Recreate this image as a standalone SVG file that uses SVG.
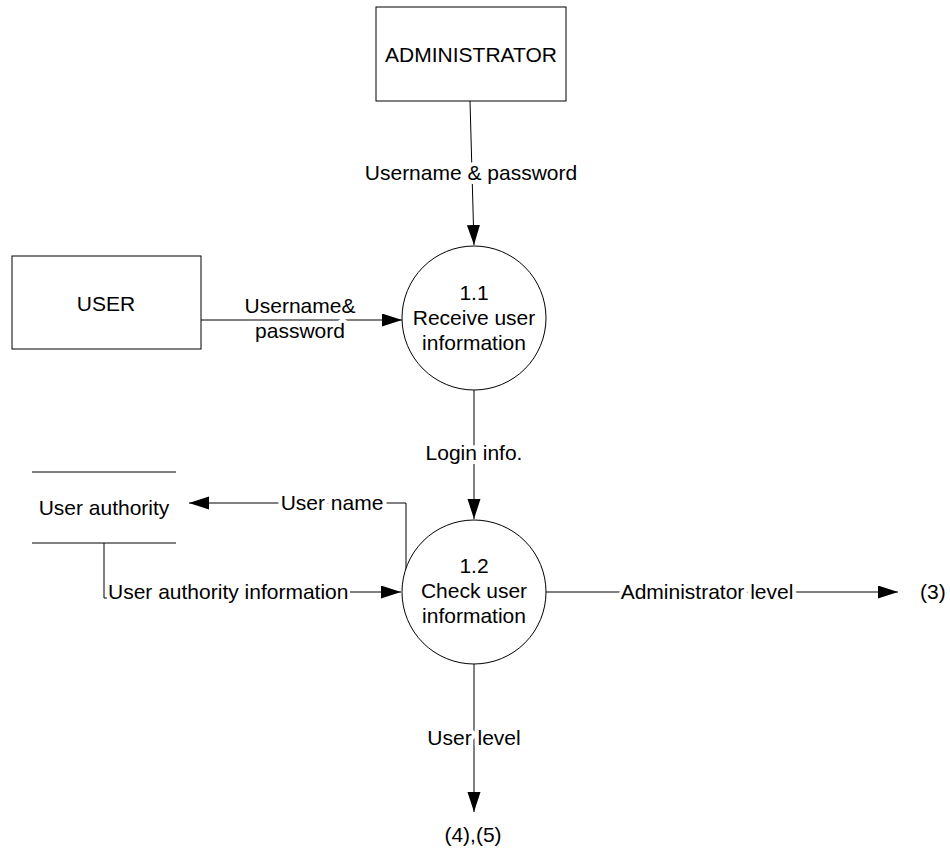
<svg xmlns="http://www.w3.org/2000/svg" width="950" height="855" viewBox="0 0 950 855">
  <style>
    text { font-family: "Liberation Sans", Arial, sans-serif; font-size: 21px; fill: #000; }
    .mid { text-anchor: middle; }
    .box { fill: #fff; stroke: #000; stroke-width: 1; }
    .line { fill: none; stroke: #000; stroke-width: 1; }
    .lbl { stroke: #fff; stroke-width: 8px; stroke-linejoin: round; paint-order: stroke; }
  </style>
  <defs>
    <marker id="arrow" markerUnits="userSpaceOnUse" markerWidth="21" markerHeight="14" refX="20" refY="6.5" orient="auto">
      <path d="M0,0 L20,6.5 L0,13 Z" fill="#000"/>
    </marker>
  </defs>

  <rect width="950" height="855" fill="#fff"/>

  <!-- connectors -->
  <g id="connectors">
    <path class="line" d="M470,101 L474,245" marker-end="url(#arrow)"/>
    <path class="line" d="M201,320 L402,320" marker-end="url(#arrow)"/>
    <path class="line" d="M474,390 L474,519" marker-end="url(#arrow)"/>
    <path class="line" d="M406,570 V503 H189" marker-end="url(#arrow)"/>
    <path class="line" d="M104,543 V598 H107"/>
    <path class="line" d="M350,592 L401,592" marker-end="url(#arrow)"/>
    <path class="line" d="M546,592 L898,592" marker-end="url(#arrow)"/>
    <path class="line" d="M474,664 L474,812" marker-end="url(#arrow)"/>

    <text class="mid lbl" x="471" y="180">Username &amp; password</text>
    <text class="mid lbl" x="300" y="313">Username&amp;</text>
    <text class="mid lbl" x="300" y="338">password</text>
    <text class="mid lbl" x="474" y="460">Login info.</text>
    <text class="mid lbl" x="332" y="510">User name</text>
    <text x="108" y="599">User authority information</text>
    <text class="mid lbl" x="707" y="599">Administrator level</text>
    <text class="mid lbl" x="474" y="745">User level</text>
  </g>

  <!-- external entities -->
  <g id="administrator">
    <rect class="box" x="376" y="7" width="190" height="94"/>
    <text class="mid" x="471" y="62">ADMINISTRATOR</text>
  </g>
  <g id="user">
    <rect class="box" x="12" y="256" width="189" height="93"/>
    <text class="mid" x="106" y="311">USER</text>
  </g>

  <!-- data store -->
  <g id="user-authority">
    <line class="line" x1="32" y1="472" x2="176" y2="472"/>
    <line class="line" x1="32" y1="543" x2="176" y2="543"/>
    <text class="mid" x="104" y="515">User authority</text>
  </g>

  <!-- processes -->
  <g id="process-1-1">
    <circle class="box" cx="474" cy="318" r="72"/>
    <text class="mid" x="474" y="300">1.1</text>
    <text class="mid" x="474" y="325">Receive user</text>
    <text class="mid" x="474" y="350">information</text>
  </g>
  <g id="process-1-2">
    <circle class="box" cx="474" cy="592" r="72"/>
    <text class="mid" x="474" y="573">1.2</text>
    <text class="mid" x="474" y="598">Check user</text>
    <text class="mid" x="474" y="623">information</text>
  </g>

  <!-- off-page references -->
  <g id="ref-3">
    <text x="920" y="599">(3)</text>
  </g>
  <g id="ref-4-5">
    <text class="mid" x="473" y="842">(4),(5)</text>
  </g>
</svg>
